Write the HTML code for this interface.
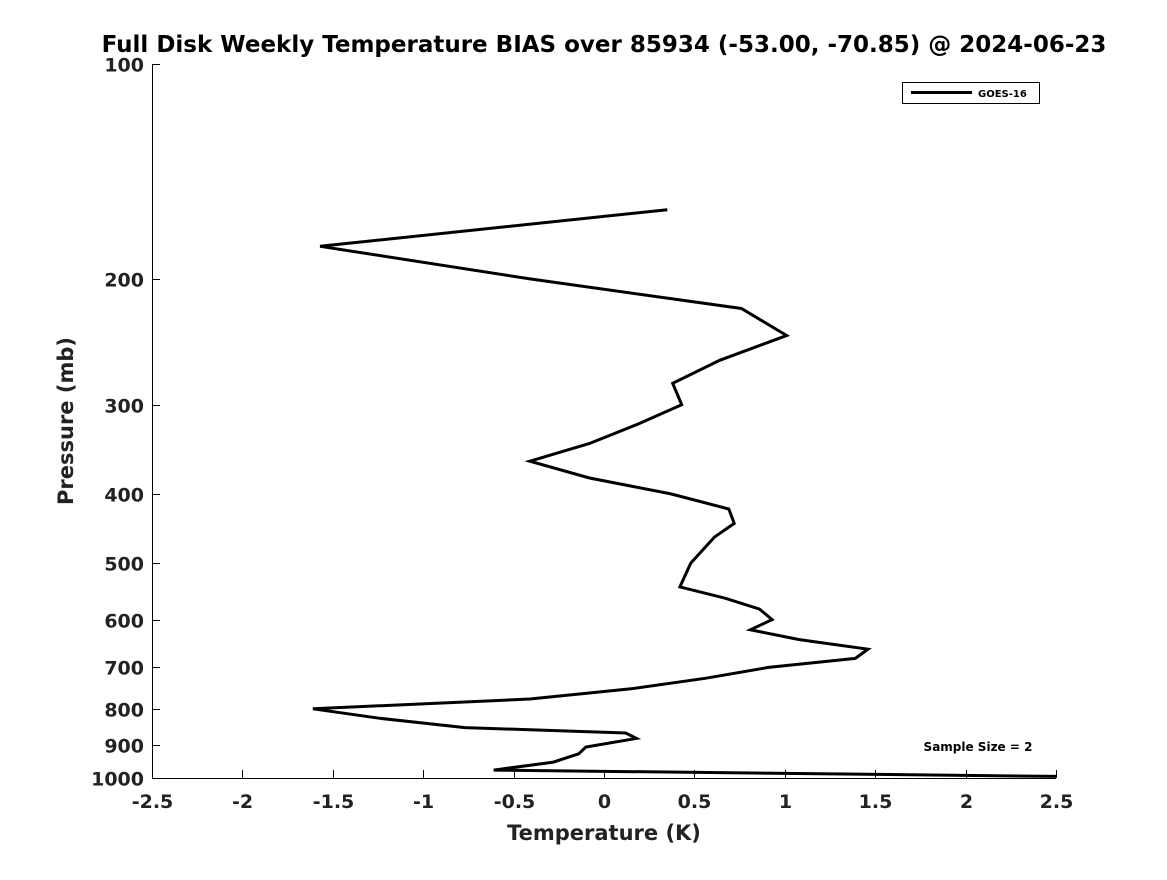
<!DOCTYPE html>
<html><head><meta charset="utf-8"><style>
body{margin:0;background:#fff;font-family:"Liberation Sans","DejaVu Sans",sans-serif;}
svg text{font-family:"DejaVu Sans","Liberation Sans",sans-serif;font-weight:bold;fill:#222;}
</style></head><body>
<svg id="chart" width="1167" height="875" xmlns="http://www.w3.org/2000/svg">
<text x="604" y="52" font-size="23" text-anchor="middle" style="fill:#000">Full Disk Weekly Temperature BIAS over 85934 (-53.00, -70.85) @ 2024-06-23</text>
<g id="axes"></g>
<g id="series"></g>
<g>
<rect x="902.5" y="82.5" width="137" height="21" fill="#fff" stroke="#000" stroke-width="1"/>
<line x1="911" y1="92.5" x2="972" y2="92.5" stroke="#000" stroke-width="3"/>
<text x="978" y="97" font-size="10" style="fill:#000">GOES-16</text>
</g>
<text x="978" y="751" font-size="12" text-anchor="middle" style="fill:#000">Sample Size = 2</text>
<text x="604" y="840" font-size="21" text-anchor="middle">Temperature (K)</text>
<text transform="translate(73,421) rotate(-90)" font-size="21" text-anchor="middle">Pressure (mb)</text>
</svg>
<script>
const xTicks=[-2.5,-2,-1.5,-1,-0.5,0,0.5,1,1.5,2,2.5];
const xTickLabels=["-2.5","-2","-1.5","-1","-0.5","0","0.5","1","1.5","2","2.5"];
const yTicks=[100,200,300,400,500,600,700,800,900,1000];
const pressures=[160,180,200,220,240,260,280,300,320,340,360,380,400,420,440,460,500,540,560,580,600,620,640,660,680,700,725,750,775,800,825,850,865,880,905,925,950,975,995];
const temps=[0.35,-1.57,-0.41,0.76,1.01,0.64,0.38,0.43,0.18,-0.08,-0.41,-0.08,0.37,0.69,0.72,0.61,0.48,0.42,0.67,0.86,0.93,0.81,1.08,1.46,1.39,0.91,0.56,0.15,-0.41,-1.61,-1.24,-0.77,0.12,0.18,-0.1,-0.14,-0.28,-0.61,2.5];
const X0=152,X1=1056,Y0=64,Y1=778;
const xs=v=>X0+(v+2.5)/5*(X1-X0);
const ys=p=>Y0+(Math.log10(p)-2)*(Y1-Y0);
const NS="http://www.w3.org/2000/svg";
const ax=document.getElementById('axes');
function mk(t,a,parent){const e=document.createElementNS(NS,t);for(const k in a)e.setAttribute(k,a[k]);parent.appendChild(e);return e;}
const xl=mk('line',{x1:X0,y1:Y1+0.5,x2:X1,y2:Y1+0.5,stroke:'#000','stroke-width':1},ax);


const yl=mk('line',{x1:X0+0.5,y1:Y0,x2:X0+0.5,y2:Y1,stroke:'#000','stroke-width':1},ax);


xTicks.forEach((v,i)=>{const x=Math.round(xs(v))+0.5;
mk('line',{x1:x,y1:Y1,x2:x,y2:Y1-8,stroke:'#000'},ax);
const t=mk('text',{x:x,y:Y1+30,'font-size':19,'text-anchor':'middle'},ax);t.textContent=xTickLabels[i];

});
yTicks.forEach(p=>{const y=Math.round(ys(p))+0.5;
mk('line',{x1:X0,y1:y,x2:X0+8,y2:y,stroke:'#000'},ax);
const t=mk('text',{x:X0-8,y:y+7,'font-size':19,'text-anchor':'end'},ax);t.textContent=String(p);

});
const pts=temps.map((t,i)=>xs(t).toFixed(1)+','+ys(pressures[i]).toFixed(1)).join(' ');
const pl=mk('polyline',{points:pts,fill:'none',stroke:'#000','stroke-width':3,'stroke-linejoin':'miter'},document.getElementById('series'));


</script>
</body></html>
